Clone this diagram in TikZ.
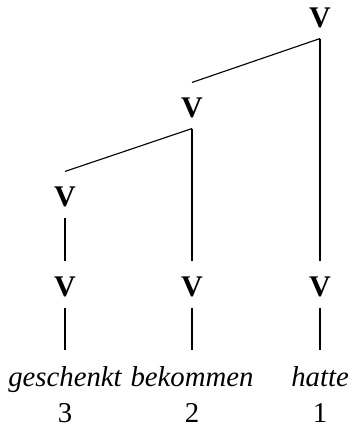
\documentclass[tikz,border=0pt]{standalone}
\usepackage{fontspec}
\setmainfont{Liberation Serif}
\begin{document}
\begin{tikzpicture}[x=0.4pt, y=-0.4pt, line width=0.45pt]
        \tikzstyle{cat}=[inner sep=4pt, text height=10pt, text depth=0pt, anchor=base, font=\fontsize{12}{14}\selectfont\bfseries];
        \tikzstyle{word}=[inner sep=4pt, text height=10pt, text depth=0pt, anchor=base, font=\fontsize{11.5}{14}\selectfont\itshape];
        \tikzstyle{num}=[inner sep=0pt, anchor=base, font=\fontsize{11.5}{14}\selectfont];

        \useasboundingbox (0,0) rectangle (355,430);

        \node[cat] (vtop) at (320,28) {V};
        \node[cat] (vmid) at (192,118) {V};
        \node[cat] (vlow) at (65,207) {V};
        \node[cat] (v3) at (65,297) {V};
        \node[cat] (v2) at (192,297) {V};
        \node[cat] (v1) at (320,297) {V};

        \node[word] (w3) at (65,386) {geschenkt};
        \node[word] (w2) at (192,386) {bekommen};
        \node[word] (w1) at (320,386) {hatte};

        \node[num] (n3) at (65,422) {3};
        \node[num] (n2) at (192,422) {2};
        \node[num] (n1) at (320,422) {1};

        \draw (vtop.south) -- (vmid.north);
        \draw (vtop.south) -- (v1.north);
        \draw (vmid.south) -- (vlow.north);
        \draw (vmid.south) -- (v2.north);
        \draw (vlow.south) -- (v3.north);
        \draw (v3.south) -- (w3.north);
        \draw (v2.south) -- (w2.north);
        \draw (v1.south) -- (w1.north);
    \end{tikzpicture}
\end{document}
